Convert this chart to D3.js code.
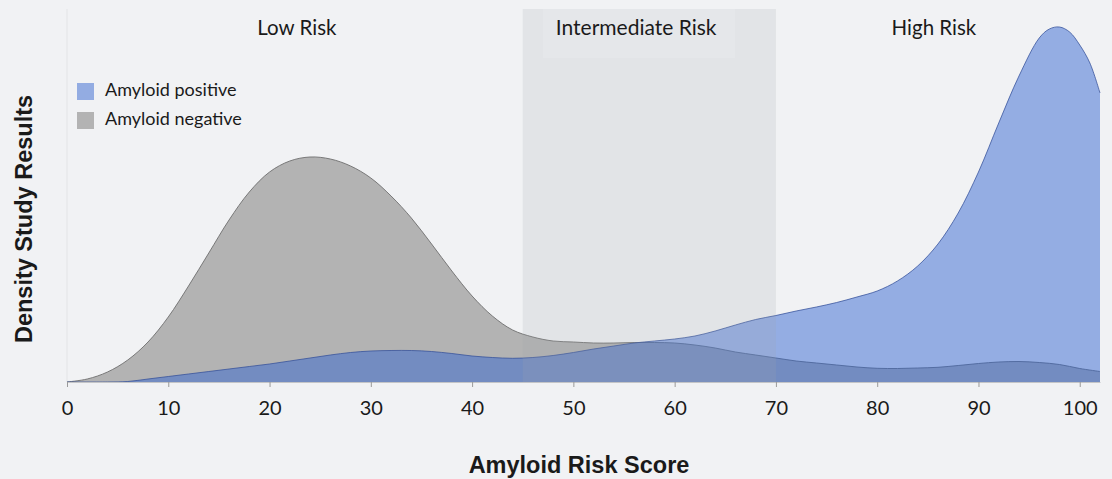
<!DOCTYPE html>
<html>
<head>
<meta charset="utf-8">
<script src="https://cdn.jsdelivr.net/npm/d3@7"></script>
<style>
  html, body { margin: 0; padding: 0; background: #f1f2f4; }
  svg { display: block; }
</style>
</head>
<body>
<svg id="chart" width="1112" height="479"></svg>
<script>
// ---- data ----
const negScores = [0,2,4,6,8,10,12,14,16,18,20,22,24,26,28,30,32,34,36,38,40,42,44,46,48,50,52,54,56,58,60,62,64,66,68,70,72,74,76,78,80,82,84,86,88,90,92,94,96,98,100,102];
const negDensity = [0,0.0003,0.0010,0.0022,0.0040,0.0065,0.0096,0.0129,0.0162,0.0190,0.0210,0.0221,0.0225,0.0223,0.0216,0.0204,0.0186,0.0164,0.0138,0.0111,0.0086,0.0066,0.0052,0.0045,0.0041,0.0040,0.0039,0.0039,0.00395,0.00395,0.0039,0.0037,0.0034,0.0030,0.0027,0.0024,0.0021,0.0019,0.0017,0.0015,0.00137,0.00135,0.0014,0.00147,0.00165,0.00185,0.0020,0.00205,0.00195,0.00175,0.00135,0.00105];

const posScores = [0,4,6,8,10,12,14,16,18,20,22,24,26,28,30,32,34,36,38,40,42,44,46,48,50,52,54,56,58,60,62,64,66,68,70,72,74,76,78,80,82,84,86,88,90,92,94,96,97,98,99,100,101,102];
const posDensity = [0,0,0.00005,0.0003,0.00055,0.0008,0.00105,0.0013,0.00155,0.0018,0.0021,0.0024,0.0027,0.00295,0.0031,0.00315,0.00315,0.00305,0.00285,0.0026,0.00245,0.00237,0.00245,0.00265,0.00295,0.0033,0.0036,0.0039,0.0041,0.0043,0.0046,0.0051,0.0057,0.00625,0.00665,0.0071,0.0075,0.00795,0.0085,0.0091,0.0101,0.0116,0.0138,0.0169,0.0210,0.0259,0.0306,0.0344,0.0353,0.0355,0.0350,0.0337,0.0319,0.0289];

const xTicks = [0,10,20,30,40,50,60,70,80,90,100];
const zones = ["Low Risk", "Intermediate Risk", "High Risk"];
const zoneCenters = [22.7, 56.2, 85.6];
const intermediateRange = [45, 70];
const legendLabels = ["Amyloid positive", "Amyloid negative"];
const xTitle = "Amyloid Risk Score";
const yTitle = "Density Study Results";

// ---- layout ----
const svg = d3.select("#chart");
const x = d3.scaleLinear().domain([0, 102]).range([67, 1100]);
const y = d3.scaleLinear().domain([0, 0.0373]).range([382, 9]);

const BLUE = "rgb(42,95,208)";
const labelFont = "Lato, 'Open Sans', sans-serif";
const titleFont = "'Liberation Sans', Arial, sans-serif";

svg.append("rect").attr("width", 1112).attr("height", 479).attr("fill", "#f1f2f4");

// faint plot-left line
svg.append("line").attr("x1", x(0)).attr("x2", x(0)).attr("y1", 9).attr("y2", y(0))
  .attr("stroke", "#e3e4e6").attr("stroke-width", 1);

const negPts = negScores.map((s, i) => [s, negDensity[i]]);
const posPts = posScores.map((s, i) => [s, posDensity[i]]);

const curve = d3.curveCatmullRom.alpha(0.5);
const area = d3.area().x(d => x(d[0])).y0(y(0)).y1(d => Math.min(y(0), y(d[1]))).curve(curve);
const line = d3.line().x(d => x(d[0])).y(d => y(d[1])).curve(curve);

svg.append("path").datum(negPts).attr("d", area).attr("fill", "#b3b3b3");
svg.append("path").datum(negPts).attr("d", line).attr("fill", "none")
  .attr("stroke", "#6e6e6e").attr("stroke-width", 0.9);

svg.append("path").datum(posPts).attr("d", area).attr("fill", BLUE).attr("fill-opacity", 0.47);
svg.append("path").datum(posPts).attr("d", line).attr("fill", "none")
  .attr("stroke", "#34509a").attr("stroke-width", 0.9).attr("stroke-opacity", 0.85);

// intermediate-risk band overlay
svg.append("rect")
  .attr("x", x(intermediateRange[0])).attr("y", 9)
  .attr("width", x(intermediateRange[1]) - x(intermediateRange[0]))
  .attr("height", y(0) - 9)
  .attr("fill", "#a0a4aa").attr("fill-opacity", 0.18);
svg.append("rect")
  .attr("x", 543).attr("y", 9).attr("width", 192).attr("height", 49)
  .attr("fill", "#ffffff").attr("fill-opacity", 0.12);

// x axis
const xAxis = d3.axisBottom(x).tickValues(xTicks).tickSize(5).tickSizeOuter(0).tickFormat(d3.format("d"));
const gx = svg.append("g").attr("transform", `translate(0,${y(0)})`).call(xAxis);
gx.select(".domain").attr("stroke", "#c4c5c7").attr("stroke-width", 1.2);
gx.selectAll(".tick line").attr("stroke", "#9a9a9a");
gx.selectAll(".tick text").attr("y", 33).attr("dy", 0)
  .attr("font-family", labelFont).attr("font-size", 20).attr("fill", "#1a1a1a");

// zone labels
svg.selectAll(".zone").data(zones).join("text")
  .attr("class", "zone")
  .attr("x", (d, i) => x(zoneCenters[i])).attr("y", 35)
  .attr("text-anchor", "middle")
  .attr("font-family", labelFont).attr("font-size", (d, i) => i === 1 ? 21 : 20.5).attr("fill", "#1a1a1a")
  .text(d => d);

// legend
const legendColors = ["#93ace2", "#b3b3b3"];
const lg = svg.append("g");
legendLabels.forEach((t, i) => {
  lg.append("rect").attr("x", 77).attr("y", 83 + i * 29).attr("width", 17).attr("height", 17)
    .attr("fill", legendColors[i]);
  lg.append("text").attr("x", 105).attr("y", 96 + i * 29)
    .attr("font-family", labelFont).attr("font-size", 18).attr("fill", "#1a1a1a").text(t);
});

// axis titles
svg.append("text").attr("x", 579).attr("y", 473).attr("text-anchor", "middle")
  .attr("font-family", titleFont).attr("font-weight", "bold").attr("font-size", 23.5)
  .attr("fill", "#1a1a1a").text(xTitle);
svg.append("text").attr("transform", "translate(32,219) rotate(-90)").attr("text-anchor", "middle")
  .attr("font-family", titleFont).attr("font-weight", "bold").attr("font-size", 23.5)
  .attr("fill", "#1a1a1a").text(yTitle);
</script>
</body>
</html>
